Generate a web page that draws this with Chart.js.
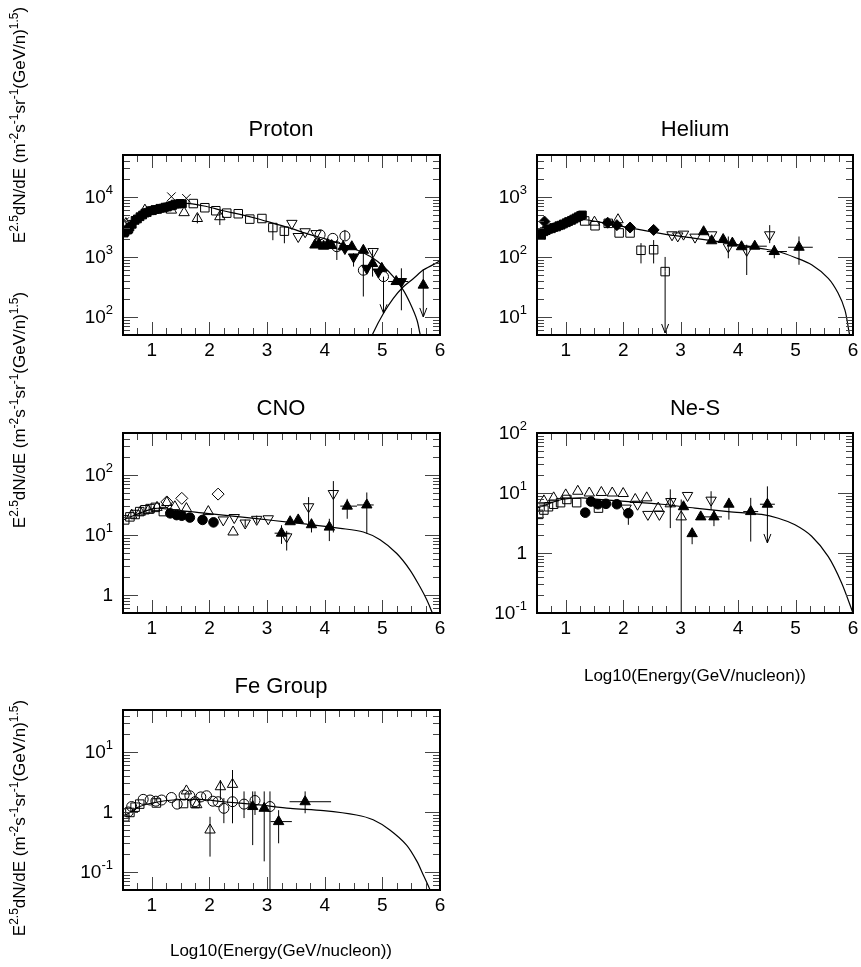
<!DOCTYPE html>
<html>
<head>
<meta charset="utf-8">
<script src="https://cdn.jsdelivr.net/npm/chart.js@4.4.0/dist/chart.umd.min.js"></script>
<style>
  body { margin: 0; background: #fff; }
  #page { position: relative; width: 861px; height: 967px; font-family: "Liberation Sans", Arial, sans-serif; color: #000; overflow: hidden; }
  canvas { position: absolute; left: 0; top: 0; pointer-events: none; }
  .title { position: absolute; font-size: 22px; transform: translate(-50%, -50%); white-space: nowrap; }
  .xtitle { position: absolute; font-size: 17px; transform: translate(-50%, -50%); white-space: nowrap; }
  .ytitle { position: absolute; font-size: 17px; white-space: nowrap; transform: translate(-50%, -50%) rotate(-90deg); }
  sup { font-size: 12px; vertical-align: 0.55em; line-height: 0; }
</style>
</head>
<body>
<div id="page">
  <canvas id="proton" width="861" height="967"></canvas>
  <canvas id="helium" width="861" height="967"></canvas>
  <canvas id="cno" width="861" height="967"></canvas>
  <canvas id="nes" width="861" height="967"></canvas>
  <canvas id="fe" width="861" height="967"></canvas>

  <div class="title" style="left:281px;top:129px">Proton</div>
  <div class="title" style="left:695px;top:129px">Helium</div>
  <div class="title" style="left:281px;top:408px">CNO</div>
  <div class="title" style="left:695px;top:408px">Ne-S</div>
  <div class="title" style="left:281px;top:686px">Fe Group</div>

  <div class="ytitle" style="left:20px;top:125px">E<sup>2.5</sup>dN/dE (m<sup>-2</sup>s<sup>-1</sup>sr<sup>-1</sup>(GeV/n)<sup>1.5</sup>)</div>
  <div class="ytitle" style="left:20px;top:410px">E<sup>2.5</sup>dN/dE (m<sup>-2</sup>s<sup>-1</sup>sr<sup>-1</sup>(GeV/n)<sup>1.5</sup>)</div>
  <div class="ytitle" style="left:20px;top:818px">E<sup>2.5</sup>dN/dE (m<sup>-2</sup>s<sup>-1</sup>sr<sup>-1</sup>(GeV/n)<sup>1.5</sup>)</div>

  <div class="xtitle" style="left:695px;top:676px">Log10(Energy(GeV/nucleon))</div>
  <div class="xtitle" style="left:281px;top:951px">Log10(Energy(GeV/nucleon))</div>
</div>

<script>
// x axis: log10 of energy per nucleon
const xTickValues = [1, 2, 3, 4, 5, 6];
const xTickLabels = ["1", "2", "3", "4", "5", "6"];

// y tick labels: [value, base, exponent]
const protonYTicks = [[100, "10", "2"], [1000, "10", "3"], [10000, "10", "4"]];
const heliumYTicks = [[10, "10", "1"], [100, "10", "2"], [1000, "10", "3"]];
const cnoYTicks = [[1, "1", ""], [10, "10", "1"], [100, "10", "2"]];
const nesYTicks = [[0.1, "10", "-1"], [1, "1", ""], [10, "10", "1"], [100, "10", "2"]];
const feYTicks = [[0.1, "10", "-1"], [1, "1", ""], [10, "10", "1"]];

// points: [x, y, yLow, yHigh, xLow, xHigh]
// ---- Proton
const protonFilledSquares = [
  [0.52, 2500], [0.535, 2630], [0.58, 2800], [0.6, 2900], [0.62, 3160], [0.66, 3500],
  [0.71, 4070], [0.75, 4300], [0.795, 4680], [0.84, 5000], [0.88, 5370], [0.92, 5500],
  [0.97, 5890], [1.01, 5900], [1.055, 6170], [1.1, 6200], [1.14, 6460], [1.19, 6500],
  [1.23, 6760], [1.27, 6800], [1.315, 7080], [1.36, 7200], [1.4, 7590], [1.45, 7600],
  [1.49, 7800], [1.53, 7700]
];
const protonCrosses = [[0.53, 3890], [1.34, 10100], [1.6, 9490]];
const protonOpenTriangles = [
  [0.55, 3600], [0.88, 6030], [1.34, 6030], [1.56, 5470],
  [1.79, 4370, 3630, 5250], [2.18, 4680, 3400, 5560]
];
const protonOpenSquares = [
  [1.72, 7760], [1.92, 6610], [2.11, 5890], [2.3, 5370], [2.5, 5250], [2.7, 4270],
  [2.91, 4370], [3.1, 3090, 1900, 3630], [3.3, 2690, 1690, 3160]
];
const protonOpenDownTriangles = [[3.43, 3630], [3.54, 2190], [3.66, 2630], [3.85, 2450], [4.84, 1230]];
const protonOpenCircles = [
  [3.92, 2340], [4.14, 2040], [4.21, 1480, 890, 1910], [4.35, 2240, 1910, 2820],
  [4.67, 600, 219, 1480], [5.02, 470]
];
const protonFilledTriangles = [
  [3.83, 1580], [3.9, 1660], [3.98, 1510], [4.05, 1620], [4.12, 1550], [4.32, 1480],
  [4.47, 1480], [4.67, 1290], [4.83, 776, 470, 1320], [4.99, 646],
  [5.24, 389, null, null, 5.1, 5.4], [5.71, 339, null, 630]
];
const protonFilledDownTriangles = [
  [4.35, 1380], [4.5, 1000, 690, 1150], [4.73, 646], [4.93, 560],
  [5.33, 389, 129, 646, 5.15, 5.45]
];
const protonLimits = [[5.02, 470, 115], [5.71, 339, 100]];
const protonFit = [
  [0.5, 2820], [0.8, 4680], [1.08, 6170], [1.37, 7410], [1.66, 7760], [1.95, 6920],
  [2.24, 5890], [2.53, 5130], [2.82, 4370], [3.11, 3630], [3.4, 3020], [3.69, 2450],
  [3.98, 2040], [4.27, 1660], [4.55, 1320], [4.84, 955], [5.02, 692], [5.19, 468],
  [5.36, 282], [5.48, 170], [5.6, 89], [5.65, 54], [5.7, 32]
];
const protonHighFit = [[4.75, 32], [4.84, 54], [5.02, 115], [5.19, 204], [5.36, 316], [5.54, 437], [5.71, 603], [6.0, 851]];

// ---- Helium
const heliumFilledSquares = [
  [0.53, 245], [0.58, 229], [0.62, 263], [0.66, 275], [0.7, 288], [0.75, 295],
  [0.79, 309], [0.84, 316], [0.88, 331], [0.92, 339], [0.96, 355], [1.01, 372],
  [1.05, 389], [1.1, 407], [1.14, 427], [1.18, 447], [1.22, 468], [1.26, 490], [1.29, 501]
];
const heliumFilledDiamonds = [[0.63, 389], [1.73, 372], [1.89, 339], [2.12, 309], [2.53, 282]];
const heliumOpenSquares = [
  [1.33, 398], [1.51, 331], [1.74, 363], [1.93, 251], [2.12, 251],
  [2.31, 129, 78, 170], [2.53, 132, 78, 191], [2.73, 57, null, 100]
];
const heliumOpenTriangles = [[1.5, 380], [1.91, 417]];
const heliumOpenDownTriangles = [
  [2.85, 234], [2.95, 224], [3.05, 240], [3.25, 214], [3.54, 234],
  [3.83, 148, 95, 219], [4.15, 129, 50, 160], [4.55, 234, 170, 339]
];
const heliumFilledTriangles = [
  [3.4, 263], [3.54, 186], [3.74, 195], [3.9, 170], [4.06, 148],
  [4.29, 151, null, null, 4.06, 4.5], [4.63, 123, 95, 158, 4.5, 4.85], [5.06, 145, 74, 219, 4.87, 5.3]
];
const heliumLimits = [[2.73, 57, 5.4]];
const heliumFit = [
  [0.5, 240], [0.8, 309], [1.05, 380], [1.34, 417], [1.7, 363], [2.09, 309], [2.67, 245],
  [3.25, 204], [3.83, 170], [4.41, 138], [4.7, 123], [4.99, 98], [5.28, 74], [5.57, 44],
  [5.74, 25], [5.86, 13], [5.93, 5.7], [5.96, 4]
];

// ---- CNO
const cnoOpenSquares = [[0.53, 17.8], [0.62, 20], [0.71, 21.9], [0.79, 24.5], [0.88, 26.3], [0.97, 27.5], [1.06, 28.8], [1.2, 24.5]];
const cnoOpenTriangles = [[0.65, 21.4], [0.8, 24], [0.94, 25.7], [1.09, 28.8], [1.26, 34.7], [1.4, 29.5], [1.6, 27.5], [1.98, 24.5], [2.41, 11.2]];
const cnoOpenDiamonds = [[1.26, 35.5], [1.52, 40.7], [2.15, 47.9]];
const cnoFilledCircles = [[1.32, 22.9], [1.43, 21.4], [1.52, 20.9], [1.66, 19.5], [1.88, 17.8], [2.07, 16.2]];
const cnoOpenDownTriangles = [
  [2.24, 17.8], [2.43, 19.5], [2.62, 15.8, 13.5, 18], [2.82, 18.2, 15.5, 21], [3.02, 18.6],
  [3.34, 9.3, 5.5, 11.7], [3.72, 29.5, 15.1, 42.7], [4.15, 49, 11, 79]
];
const cnoFilledTriangles = [
  [3.25, 10.7, 7.1, 14.5, 3.13, 3.39], [3.4, 16.6], [3.54, 17.8], [3.77, 14.8, 11, 18.6],
  [4.08, 13.5, 7.9, 18.6], [4.39, 30.2, 18.6, 40, 4.27, 4.56], [4.73, 31.6, 10.5, 51, 4.56, 4.85]
];
const cnoFit = [
  [0.5, 17.8], [1.03, 27.5], [1.37, 26.3], [1.95, 22.9], [2.53, 20], [3.11, 17.4], [3.69, 15.1],
  [4.27, 12.9], [4.67, 11.2], [4.96, 8.3], [5.25, 4.9], [5.48, 2.6], [5.65, 1.38], [5.77, 0.83],
  [5.86, 0.52], [5.9, 0.4]
];

// ---- Ne-S
const nesOpenSquares = [[0.53, 4.4], [0.62, 5.2], [0.7, 5.9], [0.79, 6.5], [0.91, 6.9], [1.02, 7.8], [1.19, 6.9], [1.57, 5.6]];
const nesOpenTriangles = [
  [0.62, 7.4], [0.79, 8.3], [1.0, 9.3], [1.21, 10.7], [1.41, 10], [1.62, 10.2], [1.81, 10],
  [2.0, 9.8], [2.21, 7.8], [2.41, 8.3], [2.61, 5.6], [2.82, 6.6, 2.6, 11.5], [3.01, 4.0, 0.05, 7.8]
];
const nesFilledCircles = [[1.34, 4.7], [1.44, 7.2], [1.56, 6.5], [1.7, 6.6], [1.89, 6.5], [2.09, 4.6, 2.95, 5.6]];
const nesOpenDownTriangles = [[2.05, 5.6], [2.25, 6.5], [2.43, 4.4], [2.63, 4.4], [2.83, 7.2], [3.12, 9.1], [3.53, 7.6, 5.2, 10.7]];
const nesFilledTriangles = [
  [3.05, 5.9], [3.2, 2.1, 1.4, 2.6], [3.35, 4.0], [3.58, 4.0, 2.8, 5.2, 3.37, 3.72],
  [3.84, 6.5, 3.6, 8.3], [4.22, 4.9, 1.55, 8.3, 4.09, 4.35], [4.51, 6.5, null, 12.9, 4.38, 4.64]
];
const nesLimits = [[4.51, 6.5, 1.47]];
const nesFit = [
  [0.5, 5.6], [0.93, 7.8], [1.28, 8.3], [1.51, 7.9], [2.09, 7.2], [2.67, 6.5], [3.25, 5.6],
  [3.83, 4.9], [4.41, 4.4], [4.7, 3.8], [4.99, 2.95], [5.28, 1.9], [5.57, 0.87], [5.8, 0.32], [6.0, 0.1]
];

// ---- Fe group
const feOpenSquares = [[0.53, 0.83], [0.62, 0.98], [0.71, 1.2], [0.79, 1.35], [1.08, 1.41], [1.55, 1.38], [1.75, 1.38]];
const feOpenCircles = [
  [0.59, 1.0], [0.65, 1.23], [0.85, 1.62], [0.97, 1.58], [1.07, 1.51], [1.17, 1.58], [1.34, 1.74],
  [1.44, 1.35], [1.56, 1.91], [1.66, 1.86], [1.75, 1.48], [1.85, 1.78], [1.95, 1.86], [2.06, 1.51],
  [2.15, 1.48], [2.25, 1.15, 0.65, 1.7], [2.4, 1.48, 0.65, 2.45], [2.6, 1.35, 0.79, 2.2],
  [2.79, 1.55, 0.89, 2.2], [3.05, 1.23, 0.01, 2.2]
];
const feOpenTriangles = [[1.6, 2.24], [1.78, 1.32], [2.01, 0.5, 0.18, 0.83], [2.19, 2.63, 1.58, 3.4], [2.4, 2.88, 0.65, 5]];
const feFilledTriangles = [
  [2.75, 1.23, 0.28, 2.2], [2.95, 1.15, 0.15, 2.2], [3.2, 0.69, 0.3, 1.07, 3.06, 3.43],
  [3.66, 1.48, 0.95, 2.2, 3.39, 4.11]
];
const feFit = [
  [0.5, 0.83], [0.79, 1.23], [1.08, 1.45], [1.37, 1.58], [1.84, 1.62], [2.24, 1.48], [2.82, 1.32],
  [3.4, 1.15], [3.98, 1.05], [4.55, 0.89], [4.84, 0.74], [5.13, 0.5], [5.42, 0.28], [5.6, 0.15],
  [5.71, 0.089], [5.8, 0.058], [5.85, 0.045]
];

// marker looks (ROOT style)
const open = "rgba(0,0,0,0)";
const markers = {
  filledSquare: { pointStyle: "rect", pointRadius: 5.5, pointBackgroundColor: "#000" },
  openSquare: { pointStyle: "rect", pointRadius: 6, pointBackgroundColor: open },
  filledTriangle: { pointStyle: "triangle", pointRadius: 6, pointBackgroundColor: "#000" },
  openTriangle: { pointStyle: "triangle", pointRadius: 6, pointBackgroundColor: open },
  filledDownTriangle: { pointStyle: "triangle", pointRotation: 180, pointRadius: 6, pointBackgroundColor: "#000" },
  openDownTriangle: { pointStyle: "triangle", pointRotation: 180, pointRadius: 6, pointBackgroundColor: open },
  filledCircle: { pointStyle: "circle", pointRadius: 4.8, pointBackgroundColor: "#000" },
  openCircle: { pointStyle: "circle", pointRadius: 5, pointBackgroundColor: open },
  filledDiamond: { pointStyle: "rectRot", pointRadius: 5.5, pointBackgroundColor: "#000" },
  openDiamond: { pointStyle: "rectRot", pointRadius: 6, pointBackgroundColor: open },
  cross: { pointStyle: "crossRot", pointRadius: 6, pointBackgroundColor: open },
};

const toPoints = (arr) => arr.map(([x, y, lo, hi, xlo, xhi]) => ({ x, y, lo, hi, xlo, xhi }));

function markerSet(arr, kind) {
  return Object.assign({
    data: toPoints(arr),
    showLine: false,
    pointBorderColor: "#000",
    pointBorderWidth: 1,
  }, markers[kind]);
}

function fitLine(arr) {
  return {
    data: toPoints(arr),
    showLine: true,
    pointRadius: 0,
    borderColor: "#000",
    borderWidth: 1.2,
    tension: 0.3,
    fill: false,
  };
}

function seg(ctx, x1, y1, x2, y2) {
  ctx.beginPath();
  ctx.moveTo(x1, y1);
  ctx.lineTo(x2, y2);
  ctx.stroke();
}

// ROOT-like frame, inward ticks on all sides, error bars and limit arrows
const rootFrame = {
  id: "rootFrame",
  beforeDatasetsDraw(chart, args, opts) {
    const { ctx, chartArea: a } = chart;
    const xs = chart.scales.x, ys = chart.scales.y;
    ctx.save();
    ctx.beginPath();
    ctx.rect(a.left, a.top, a.right - a.left, a.bottom - a.top);
    ctx.clip();
    ctx.strokeStyle = "#000";
    ctx.lineWidth = 1;
    chart.data.datasets.forEach((ds) => {
      if (ds.showLine) return;
      ds.data.forEach((p) => {
        const px = xs.getPixelForValue(p.x), py = ys.getPixelForValue(p.y);
        if (p.lo != null || p.hi != null) {
          seg(ctx, px, ys.getPixelForValue(p.hi != null ? p.hi : p.y), px, ys.getPixelForValue(p.lo != null ? p.lo : p.y));
        }
        if (p.xlo != null) {
          seg(ctx, xs.getPixelForValue(p.xlo), py, xs.getPixelForValue(p.xhi), py);
        }
      });
    });
    (opts.limits || []).forEach(([lx, from, to]) => {
      const px = xs.getPixelForValue(lx);
      const y1 = ys.getPixelForValue(from), y2 = ys.getPixelForValue(to);
      seg(ctx, px, y1, px, y2);
      seg(ctx, px - 3.5, y2 - 9, px, y2);
      seg(ctx, px + 3.5, y2 - 9, px, y2);
    });
    ctx.restore();
  },
  afterDraw(chart, args, opts) {
    const { ctx, chartArea: a } = chart;
    const xs = chart.scales.x, ys = chart.scales.y;
    ctx.save();
    ctx.strokeStyle = "#444";
    ctx.lineWidth = 1;
    for (let v = 0.5; v <= 6.0001; v += 0.25) {
      const px = Math.round(xs.getPixelForValue(v)) + 0.5;
      const len = Number.isInteger(v) ? 13 : 7;
      seg(ctx, px, a.bottom, px, a.bottom - len);
      seg(ctx, px, a.top, px, a.top + len);
    }
    const e0 = Math.floor(Math.log10(ys.min)), e1 = Math.ceil(Math.log10(ys.max));
    for (let e = e0; e <= e1; e++) {
      for (let m = 1; m <= 9; m++) {
        const v = m * Math.pow(10, e);
        if (v < ys.min * 0.999 || v > ys.max * 1.001) continue;
        const py = Math.round(ys.getPixelForValue(v)) + 0.5;
        const len = m === 1 ? 15 : 7;
        seg(ctx, a.left, py, a.left + len, py);
        seg(ctx, a.right, py, a.right - len, py);
      }
    }
    ctx.strokeStyle = "#000";
    ctx.lineWidth = 2;
    ctx.strokeRect(a.left, a.top, a.right - a.left, a.bottom - a.top);

    ctx.fillStyle = "#000";
    ctx.font = '19px "Liberation Sans", Arial, sans-serif';
    ctx.textAlign = "center";
    ctx.textBaseline = "top";
    xTickValues.forEach((v, i) => {
      ctx.fillText(xTickLabels[i], xs.getPixelForValue(v), a.bottom + 6);
    });
    opts.yTicks.forEach(([v, base, exp]) => {
      const py = ys.getPixelForValue(v);
      ctx.font = '13px "Liberation Sans", Arial, sans-serif';
      const ew = exp ? ctx.measureText(exp).width : 0;
      const xr = a.left - 10 - ew;
      ctx.textAlign = "left";
      ctx.textBaseline = "alphabetic";
      if (exp) ctx.fillText(exp, xr, py - 3);
      ctx.font = '19px "Liberation Sans", Arial, sans-serif';
      ctx.textAlign = "right";
      ctx.textBaseline = "middle";
      ctx.fillText(base, xr, py + 1);
    });
    ctx.restore();
  },
};

function makePanel(id, frame, yMin, yMax, yTicks, datasets, limits) {
  return new Chart(document.getElementById(id), {
    type: "scatter",
    data: { datasets },
    options: {
      responsive: false,
      animation: false,
      devicePixelRatio: 1,
      events: [],
      layout: {
        padding: { left: frame[0], top: frame[1], right: 861 - frame[2], bottom: 967 - frame[3] },
      },
      scales: {
        x: { type: "linear", min: 0.5, max: 6, display: false },
        y: { type: "logarithmic", min: yMin, max: yMax, display: false },
      },
      plugins: {
        legend: { display: false },
        tooltip: { enabled: false },
        rootFrame: { yTicks, limits },
      },
    },
    plugins: [rootFrame],
  });
}

makePanel("proton", [123, 155, 440, 335], 50, 50000, protonYTicks, [
  markerSet(protonFilledSquares, "filledSquare"),
  markerSet(protonCrosses, "cross"),
  markerSet(protonOpenTriangles, "openTriangle"),
  markerSet(protonOpenSquares, "openSquare"),
  markerSet(protonOpenDownTriangles, "openDownTriangle"),
  markerSet(protonOpenCircles, "openCircle"),
  markerSet(protonFilledTriangles, "filledTriangle"),
  markerSet(protonFilledDownTriangles, "filledDownTriangle"),
  fitLine(protonFit),
  fitLine(protonHighFit),
], protonLimits);

makePanel("helium", [537, 155, 853, 335], 5, 5000, heliumYTicks, [
  markerSet(heliumFilledSquares, "filledSquare"),
  markerSet(heliumFilledDiamonds, "filledDiamond"),
  markerSet(heliumOpenSquares, "openSquare"),
  markerSet(heliumOpenTriangles, "openTriangle"),
  markerSet(heliumOpenDownTriangles, "openDownTriangle"),
  markerSet(heliumFilledTriangles, "filledTriangle"),
  fitLine(heliumFit),
], heliumLimits);

makePanel("cno", [123, 433, 440, 613], 0.5, 500, cnoYTicks, [
  markerSet(cnoOpenSquares, "openSquare"),
  markerSet(cnoOpenTriangles, "openTriangle"),
  markerSet(cnoOpenDiamonds, "openDiamond"),
  markerSet(cnoFilledCircles, "filledCircle"),
  markerSet(cnoOpenDownTriangles, "openDownTriangle"),
  markerSet(cnoFilledTriangles, "filledTriangle"),
  fitLine(cnoFit),
], []);

makePanel("nes", [537, 433, 853, 613], 0.1, 100, nesYTicks, [
  markerSet(nesOpenSquares, "openSquare"),
  markerSet(nesOpenTriangles, "openTriangle"),
  markerSet(nesFilledCircles, "filledCircle"),
  markerSet(nesOpenDownTriangles, "openDownTriangle"),
  markerSet(nesFilledTriangles, "filledTriangle"),
  fitLine(nesFit),
], nesLimits);

makePanel("fe", [123, 710, 440, 890], 0.05, 50, feYTicks, [
  markerSet(feOpenSquares, "openSquare"),
  markerSet(feOpenCircles, "openCircle"),
  markerSet(feOpenTriangles, "openTriangle"),
  markerSet(feFilledTriangles, "filledTriangle"),
  fitLine(feFit),
], []);
</script>
</body>
</html>
